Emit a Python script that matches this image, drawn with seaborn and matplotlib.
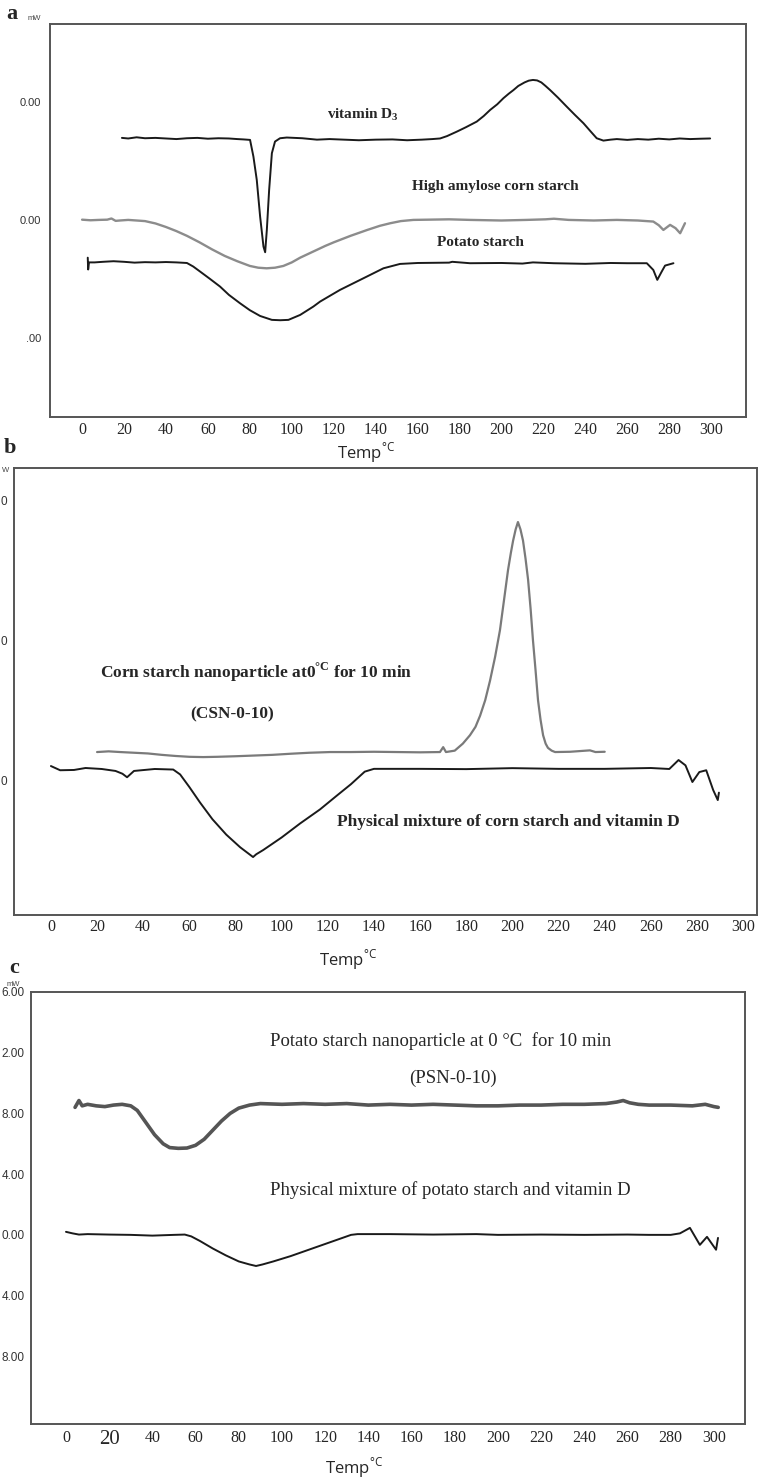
import matplotlib
matplotlib.use("Agg")
import matplotlib.pyplot as plt
from matplotlib.ticker import FixedLocator
import pandas as pd
import seaborn as sns

W, H = 769, 1484

# ---------- panel a : temperature (C) / heat flow (mW) ----------
vitd_t = [19, 22, 26, 30, 35, 40, 45, 50, 55, 60, 65, 70, 74, 77, 80.1, 81.7, 83.3, 84.9, 86.5, 87.3,
          88.1, 89.2, 90.5, 92.0, 94.4, 97.6, 105, 112, 118, 125, 132, 140, 148, 155, 162, 167, 170.7,
          174, 178.7, 183, 188.2, 191.5, 194.6, 198, 200.9, 203.5, 205.7, 208, 211, 213, 215, 217, 219,
          221, 223.2, 227, 231.1, 235, 239.1, 242.5, 245.4, 248.6, 252, 255, 260, 265, 270, 275, 280,
          285, 290, 295, 299.5]
vitd_mw = [6.95, 6.9, 7.0, 6.92, 6.95, 6.9, 6.85, 6.92, 6.95, 6.88, 6.92, 6.9, 6.85, 6.82, 6.78, 5.37,
           3.39, 0.28, -2.26, -2.74, -0.85, 2.54, 5.65, 6.64, 6.92, 6.98, 6.92, 6.8, 6.85, 6.8, 6.75, 6.8,
           6.82, 6.75, 6.8, 6.85, 6.9, 7.1, 7.48, 7.85, 8.33, 8.8, 9.32, 9.8, 10.31, 10.7, 11.0, 11.35,
           11.65, 11.8, 11.86, 11.82, 11.65, 11.35, 11.0, 10.35, 9.6, 8.9, 8.19, 7.5, 6.92, 6.72, 6.8,
           6.85, 6.78, 6.85, 6.8, 6.88, 6.82, 6.9, 6.85, 6.88, 6.9]

hacs_t = [0, 4, 8, 12, 14, 16, 18, 22, 26, 30, 35, 40, 45, 50, 56, 62, 68, 74, 80, 84, 88, 92, 96, 100,
          104, 110, 116, 120, 128, 136, 142, 147, 152, 158, 165, 175, 185, 200, 212, 221, 225, 232, 244,
          255, 265, 272.4, 275, 277.2, 280.4, 283, 285.2, 287.5]
hacs_mw = [0.02, -0.03, 0.0, 0.02, 0.12, -0.08, -0.05, 0.0, -0.05, -0.1, -0.3, -0.6, -0.95, -1.35, -1.9,
           -2.5, -3.05, -3.5, -3.9, -4.05, -4.1, -4.05, -3.9, -3.6, -3.2, -2.7, -2.2, -1.9, -1.35, -0.85,
           -0.5, -0.28, -0.1, 0.0, 0.02, 0.05, 0.0, -0.05, 0.0, 0.05, 0.1, 0.0, -0.05, 0.0, -0.05, -0.14,
           -0.45, -0.85, -0.42, -0.7, -1.13, -0.28]

pots_t = [2.7, 2.9, 3.3, 6, 10, 15, 20, 25, 30, 35, 40, 45, 50, 53, 56.3, 61, 65.8, 70, 75.3, 80, 84.9,
          90.5, 94.5, 98.4, 104, 110.3, 113.5, 118, 123, 129, 135.8, 143.7, 151.6, 160, 175, 176.5, 185,
          200, 210, 215, 225, 240, 252, 260, 269.3, 272.4, 274.3, 276.4, 278, 282]
pots_mw = [-3.2, -4.2, -3.6, -3.6, -3.55, -3.5, -3.55, -3.62, -3.58, -3.6, -3.57, -3.6, -3.65, -3.95,
           -4.38, -5.0, -5.65, -6.35, -7.06, -7.65, -8.14, -8.47, -8.5, -8.47, -8.05, -7.34, -6.92, -6.45,
           -5.93, -5.4, -4.8, -4.1, -3.73, -3.65, -3.62, -3.55, -3.67, -3.65, -3.7, -3.6, -3.67, -3.72,
           -3.65, -3.67, -3.67, -4.24, -5.08, -4.38, -3.87, -3.67]

# ---------- panel b ----------
csn_t = [20, 25, 30, 36, 42, 48, 54, 60, 66, 72, 80, 88, 96, 104, 112, 121, 130, 140, 150, 160, 168.6,
         170, 171.2, 175, 178.5, 181.6, 184, 186, 188.2, 190.3, 192.5, 194.6, 196.4, 198.1, 199.3, 200.3,
         201.4, 202.4, 203.5, 204.6, 205.7, 206.8, 207.9, 208.9, 210, 211.1, 212.2, 213.3, 214.4, 215.4,
         217, 218.5, 225, 233.6, 236, 240]
csn_mw = [2.0, 2.05, 2.0, 1.95, 1.9, 1.8, 1.72, 1.66, 1.64, 1.66, 1.7, 1.75, 1.8, 1.88, 1.95, 2.0, 2.0,
          2.02, 2.0, 1.98, 2.0, 2.35, 2.0, 2.1, 2.6, 3.2, 3.8, 4.6, 5.7, 7.1, 8.8, 10.7, 12.9, 15.0, 16.2,
          17.1, 17.9, 18.43, 17.9, 17.1, 15.8, 14.3, 12.2, 10.0, 7.9, 5.7, 4.3, 3.2, 2.6, 2.3, 2.1, 2.0,
          2.02, 2.12, 2.0, 2.02]

pmb_t = [0, 4, 10, 15, 22, 28, 31, 33, 36, 45, 53, 56, 60, 64.6, 70, 76, 82, 86, 87.6, 89, 92, 100, 108,
         116.6, 124, 130, 136, 140, 160, 180, 200, 220, 240, 260, 268, 272, 275, 278, 281, 284, 287, 289,
         289.5]
pmb_mw = [1.0, 0.7, 0.72, 0.86, 0.79, 0.65, 0.45, 0.2, 0.65, 0.79, 0.75, 0.4, -0.5, -1.6, -2.8, -3.9,
          -4.8, -5.3, -5.5, -5.3, -5.0, -4.1, -3.1, -2.1, -1.1, -0.3, 0.6, 0.8, 0.8, 0.78, 0.85, 0.8, 0.8,
          0.86, 0.79, 1.43, 1.05, -0.14, 0.57, 0.7, -0.71, -1.43, -0.9]

# ---------- panel c ----------
psn_t = [4.2, 6, 7.5, 10, 14, 18, 22, 26, 30, 33, 37, 41, 45, 48, 52, 56, 60, 64, 68, 72, 76, 80, 85, 90,
         100, 110, 120, 130, 140, 150, 160, 170, 180, 190, 200, 210, 220, 230, 240, 250, 255, 258, 261,
         265, 270, 280, 290, 296, 300, 302]
psn_mw = [8.4, 8.85, 8.5, 8.6, 8.5, 8.45, 8.55, 8.6, 8.5, 8.2, 7.4, 6.6, 6.0, 5.75, 5.7, 5.72, 5.9, 6.3,
          6.9, 7.5, 8.0, 8.35, 8.55, 8.65, 8.6, 8.65, 8.6, 8.65, 8.55, 8.6, 8.55, 8.6, 8.55, 8.5, 8.5,
          8.55, 8.55, 8.6, 8.6, 8.65, 8.75, 8.85, 8.7, 8.6, 8.55, 8.55, 8.5, 8.6, 8.45, 8.4]

pmc_t = [0, 3, 6, 10, 20, 30, 40, 50, 55, 58, 62, 68, 74, 80, 85, 88, 91, 96, 104, 112, 120, 128, 132,
         135, 150, 170, 190, 200, 220, 240, 260, 270, 280, 284.3, 288.9, 293.5, 296.8, 301, 301.9]
pmc_mw = [0.2, 0.1, 0.02, 0.05, 0.02, 0.0, -0.05, 0.0, 0.02, -0.1, -0.4, -0.9, -1.35, -1.75, -1.95,
          -2.05, -1.95, -1.75, -1.4, -1.0, -0.6, -0.2, 0.0, 0.05, 0.05, 0.02, 0.05, 0.0, 0.02, 0.0, 0.02,
          0.0, 0.0, 0.1, 0.46, -0.66, -0.13, -0.98, -0.2]

temp_ticks = list(range(0, 301, 20))
temp_labels = [str(t) for t in temp_ticks]

# y labels as they survive the crop of the original scan
a_yticks = [10, 0, -10]
a_ylabels = ["0.00", "0.00", ".00"]
b_yticks = [20, 10, 0]
b_ylabels = ["0", "0", "0"]
c_yticks = [16, 12, 8, 4, 0, -4, -8]
c_ylabels = ["6.00", "2.00", "8.00", "4.00", "0.00", "4.00", "8.00"]

sns.set_style("white")
plt.rcParams["font.family"] = ["Liberation Serif", "DejaVu Serif"]

fig = plt.figure(figsize=(W / 100, H / 100), dpi=100)


def px_axes(left, top, right, bottom):
    return fig.add_axes([left / W, 1 - bottom / H, (right - left) / W, (bottom - top) / H])


def style(ax, xlim, ylim, yticks, ylabels, yminor, ypad, xpad, ysize=8.5):
    ax.set_xlim(xlim)
    ax.set_ylim(ylim)
    ax.set_xticks(temp_ticks)
    ax.set_xticklabels(temp_labels, fontsize=11.5, family="Liberation Serif")
    ax.set_yticks(yticks)
    ax.set_yticklabels(ylabels, fontsize=ysize, family="Liberation Sans", color="#333333")
    ax.yaxis.set_minor_locator(FixedLocator(yminor))
    ax.tick_params(axis="x", direction="in", length=4, width=1.2, color="#444444", pad=xpad)
    ax.tick_params(axis="y", which="both", direction="in", length=3, width=1.2, color="#444444", pad=ypad)
    ax.set_xlabel("")
    ax.set_ylabel("")
    for s in ax.spines.values():
        s.set_visible(True)
        s.set_color("#555555")
        s.set_linewidth(1.4)


def curve(ax, t, mw, color, lw):
    df = pd.DataFrame({"t": t, "mw": mw})
    sns.lineplot(data=df, x="t", y="mw", ax=ax, color=color, lw=lw,
                 sort=False, estimator=None, legend=False)


# panel a
ax_a = px_axes(50, 24, 746, 417)
curve(ax_a, vitd_t, vitd_mw, "#1a1a1a", 1.4)
curve(ax_a, hacs_t, hacs_mw, "#8c8c8c", 1.7)
curve(ax_a, pots_t, pots_mw, "#1a1a1a", 1.4)
style(ax_a, (-15.3, 316.6), (-16.7, 16.6), a_yticks, a_ylabels,
      [v for v in range(-16, 17, 2)], ypad=6.5, xpad=3.5, ysize=8)
ax_a.text(134, 8.9, r"vitamin D$_{\mathregular{3}}$", fontsize=11, fontweight="bold", ha="center", va="center")
ax_a.text(197, 2.8, "High amylose corn starch", fontsize=11, fontweight="bold", ha="center", va="center")
ax_a.text(190, -1.95, "Potato starch", fontsize=11, fontweight="bold", ha="center", va="center")

# panel b
ax_b = px_axes(14, 468, 757, 915)
curve(ax_b, csn_t, csn_mw, "#7a7a7a", 1.6)
curve(ax_b, pmb_t, pmb_mw, "#1a1a1a", 1.4)
style(ax_b, (-16.0, 306.0), (-9.64, 22.29), b_yticks, b_ylabels,
      [v for v in range(-8, 23, 2)], ypad=5, xpad=3)
ax_b.text(21.2, 7.7, r"Corn starch nanoparticle at0$^{\mathregular{°C}}$ for 10 min",
          fontsize=12.5, fontweight="bold", ha="left", va="center")
ax_b.text(60.3, 4.7, "(CSN-0-10)", fontsize=12.5, fontweight="bold", ha="left", va="center")
ax_b.text(124, -3.0, "Physical mixture of corn starch and vitamin D",
          fontsize=12.5, fontweight="bold", ha="left", va="center")

# panel c
ax_c = px_axes(31, 992, 745, 1424)
curve(ax_c, psn_t, psn_mw, "#555555", 2.6)
curve(ax_c, pmc_t, pmc_mw, "#1a1a1a", 1.4)
style(ax_c, (-16.2, 314.4), (-12.46, 15.93), c_yticks, c_ylabels,
      [v for v in range(-12, 15, 4)] + [14, 10, 6, 2, -2, -6, -10], ypad=4.5, xpad=4)
ax_c.get_xticklabels()[1].set_fontsize(15)
ax_c.text(94.4, 12.8, "Potato starch nanoparticle at 0 °C  for 10 min", fontsize=13.5, ha="left", va="center")
ax_c.text(159, 10.3, "(PSN-0-10)", fontsize=13.5, ha="left", va="center")
ax_c.text(94.4, 2.95, "Physical mixture of potato starch and vitamin D", fontsize=13.5, ha="left", va="center")

# panel letters, units, axis titles
for lab, x, y in [("a", 12, 14), ("b", 10, 448), ("c", 14, 968)]:
    fig.text(x / W, 1 - y / H, lab, fontsize=16, fontweight="bold", ha="center", va="center")
fig.text(34 / W, 1 - 19 / H, "mW", fontsize=5.5, family="Liberation Sans", color="#444444", ha="center", va="center")
fig.text(2 / W, 1 - 470 / H, "W", fontsize=5.5, family="Liberation Sans", color="#444444", ha="left", va="center")
fig.text(13 / W, 1 - 985 / H, "mW", fontsize=5.5, family="Liberation Sans", color="#444444", ha="center", va="center")
for x, y in [(366, 453), (348, 960), (354, 1468)]:
    fig.text(x / W, 1 - y / H, r"Temp$^{\mathregular{°C}}$", fontsize=12, family="Open Sans",
             ha="center", va="center")

fig.savefig("out.png", dpi=100, facecolor="white")
